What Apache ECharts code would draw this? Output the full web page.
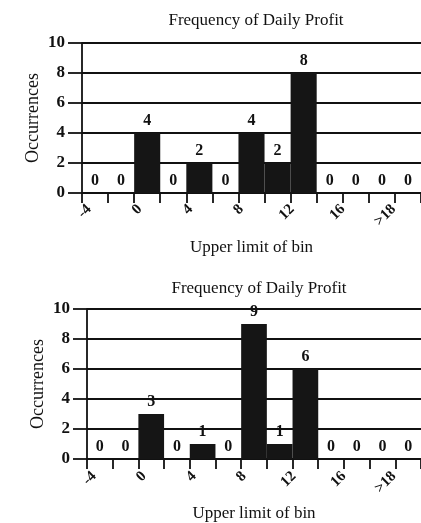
<!DOCTYPE html>
<html>
<head>
<meta charset="utf-8">
<script src="https://cdn.jsdelivr.net/npm/echarts@6/dist/echarts.min.js"></script>
<style>html,body{margin:0;padding:0;background:#fff}#c{width:421px;height:523px}</style>
</head>
<body>
<div id="c"></div>
<script>
const categories = ['-4','-2','0','2','4','6','8','10','12','14','16','18','>18'];
const tickLabels = ['-4','','0','','4','','8','','12','','16','','>18',''];
const topValues = [0,0,4,0,2,0,4,2,8,0,0,0,0];
const bottomValues = [0,0,3,0,1,0,9,1,6,0,0,0,0];
const titleText = 'Frequency of Daily Profit';
const yName = 'Occurrences';
const xName = 'Upper limit of bin';

const FONT = 'Liberation Serif';
const INK = '#111';
const txt = {fontFamily: FONT, fontWeight: 'bold', color: INK};
const txtR = {fontFamily: FONT, fontWeight: 'normal', color: INK};

const chart = echarts.init(document.getElementById('c'));

const plots = [
  {left: 82, top: 43, width: 343, height: 150},
  {left: 87, top: 309, width: 343, height: 151}
];
const LABEL_SHIFT = 7;
const grids = plots.concat(plots.map(p => ({left: p.left + LABEL_SHIFT, top: p.top, width: p.width, height: p.height})));

const xAxis = [];
const yAxis = [];
plots.forEach((p, gi) => {
  xAxis.push({
    type: 'category', gridIndex: gi, data: categories, boundaryGap: true,
    axisLine: {show: true, lineStyle: {color: INK, width: 1.8}},
    axisTick: {show: true, interval: 0, length: 10, lineStyle: {color: INK, width: 1.8}},
    axisLabel: {show: false},
    splitLine: {show: false},
    name: xName, nameLocation: 'middle', nameGap: 46,
    nameTextStyle: Object.assign({}, txtR, {fontSize: 17})
  });
  yAxis.push({
    type: 'value', gridIndex: gi, min: 0, max: 10, interval: 2,
    axisLine: {show: true, lineStyle: {color: INK, width: 1.8}},
    axisTick: {show: true, length: 14, lineStyle: {color: INK, width: 1.8}},
    axisLabel: Object.assign({}, txt, {margin: 17, fontSize: 17}),
    splitLine: {show: true, lineStyle: {color: INK, width: 1.8}},
    name: yName, nameLocation: 'middle', nameRotate: 90, nameGap: 40, nameMoveOverlap: false,
    nameTextStyle: Object.assign({}, txtR, {fontSize: 18})
  });
});
plots.forEach((p, gi) => {
  xAxis.push({
    type: 'category', gridIndex: gi + 2, data: tickLabels, boundaryGap: false, position: 'bottom',
    axisLine: {show: false}, axisTick: {show: false},
    axisLabel: Object.assign({}, txt, {interval: 0, rotate: 45, margin: 14, fontSize: 15}),
    splitLine: {show: false}
  });
  yAxis.push({
    type: 'value', gridIndex: gi + 2, min: 0, max: 10, show: false
  });
});

function barSeries(xi, yi, values) {
  return {
    type: 'bar', xAxisIndex: xi, yAxisIndex: yi, data: values,
    barCategoryGap: '0%',
    itemStyle: {color: '#151515'},
    label: Object.assign({show: true, position: 'top', distance: 4}, txt, {fontSize: 16}),
    silent: true
  };
}

chart.setOption({
  animation: false,
  backgroundColor: '#fff',
  title: [
    {text: titleText, left: 251, top: 7, textAlign: 'center',
     textStyle: Object.assign({}, txtR, {fontSize: 17})},
    {text: titleText, left: 254, top: 275, textAlign: 'center',
     textStyle: Object.assign({}, txtR, {fontSize: 17})}
  ],
  grid: grids,
  xAxis: xAxis,
  yAxis: yAxis,
  series: [barSeries(0, 0, topValues), barSeries(1, 1, bottomValues)]
});
</script>
</body>
</html>
